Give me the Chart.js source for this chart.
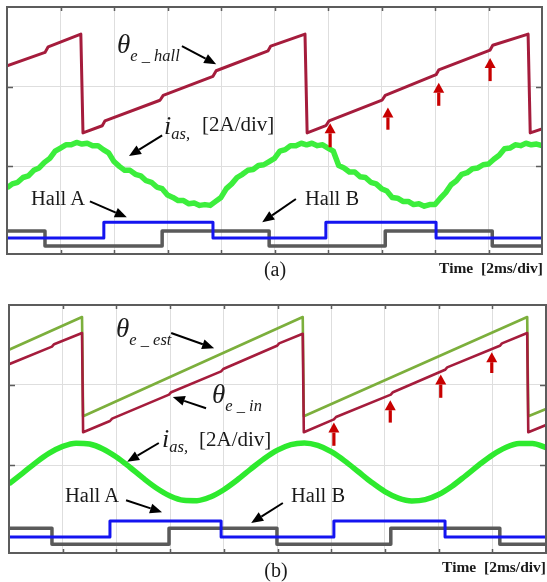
<!DOCTYPE html>
<html><head><meta charset="utf-8">
<script src="https://cdn.jsdelivr.net/npm/chart.js@4.4.1/dist/chart.umd.min.js"></script>
<style>
html,body{margin:0;padding:0;background:#fff;}
#wrap{position:relative;width:547px;height:582px;overflow:hidden;background:#fff;}
canvas{position:absolute;left:0;}
#ca{top:0;}
#cb{top:290px;}
svg{position:absolute;left:0;top:0;}
</style></head><body>
<div id="wrap">
<canvas id="ca" width="547" height="290" style="width:547px;height:290px"></canvas>
<canvas id="cb" width="547" height="292" style="width:547px;height:292px"></canvas>
<svg width="547" height="582" font-family="'Liberation Serif','Times New Roman',serif" fill="#1a1a1a">
  <!-- panel (a) -->
  <text x="117" y="53" font-size="27" font-style="italic">θ<tspan font-size="16.5" dy="8">e _ hall</tspan></text>
  <text x="164" y="134" font-size="26" font-style="italic">i<tspan font-size="16.5" dy="5">as,</tspan></text>
  <text x="202" y="131" font-size="21">[2A/div]</text>
  <text x="31" y="205" font-size="20.5">Hall A</text>
  <text x="305" y="205" font-size="20.5">Hall B</text>
  <text x="275" y="276" font-size="20" text-anchor="middle">(a)</text>
  <text x="543" y="273" font-size="15.5" font-weight="bold" text-anchor="end" xml:space="preserve">Time  [2ms/div]</text>
  <!-- panel (b) -->
  <text x="116" y="337" font-size="27" font-style="italic">θ<tspan font-size="16.5" dy="8">e _ est</tspan></text>
  <text x="212" y="403" font-size="27" font-style="italic">θ<tspan font-size="16.5" dy="8">e _ in</tspan></text>
  <text x="162" y="447" font-size="26" font-style="italic">i<tspan font-size="16.5" dy="5">as,</tspan></text>
  <text x="199" y="446" font-size="21">[2A/div]</text>
  <text x="65" y="502" font-size="20.5">Hall A</text>
  <text x="291" y="502" font-size="20.5">Hall B</text>
  <text x="276" y="577" font-size="20" text-anchor="middle">(b)</text>
  <text x="546" y="572" font-size="15.5" font-weight="bold" text-anchor="end" xml:space="preserve">Time  [2ms/div]</text>
</svg>
</div>
<script>
// ===== Panel (a) data (x in time divisions of 2 ms, y in vertical divisions) =====
const thetaHallT = [0, 0.71, 0.77, 1.38, 1.42, 1.78, 1.83, 2.86, 2.92, 3.85, 3.91, 4.88, 4.93, 5.57, 5.61, 5.96, 6.02, 7.01, 7.07, 8.02, 8.07, 9.03, 9.08, 9.74, 9.78, 10];
const thetaHallV = [2.26, 2.43, 2.50, 2.66, 1.42, 1.51, 1.57, 1.83, 1.89, 2.13, 2.20, 2.45, 2.51, 2.66, 1.42, 1.51, 1.57, 1.83, 1.89, 2.15, 2.21, 2.46, 2.52, 2.66, 1.42, 1.47];

const iasAT = [0,0.1,0.2,0.3,0.4,0.5,0.6,0.7,0.8,0.9,1,1.1,1.2,1.3,1.4,1.5,1.6,1.7,1.8,1.9,2,2.1,2.2,2.3,2.4,2.5,2.6,2.7,2.8,2.9,3,3.1,3.2,3.3,3.4,3.5,3.6,3.7,3.8,3.9,4,4.1,4.2,4.3,4.4,4.5,4.6,4.7,4.8,4.9,5,5.1,5.2,5.3,5.4,5.5,5.6,5.7,5.8,5.9,6,6.1,6.2,6.3,6.4,6.5,6.6,6.7,6.8,6.9,7,7.1,7.2,7.3,7.4,7.5,7.6,7.7,7.8,7.9,8,8.1,8.2,8.3,8.4,8.5,8.6,8.7,8.8,8.9,9,9.1,9.2,9.3,9.4,9.5,9.6,9.7,9.8,9.9,10];
const iasAV = [0.73,0.78,0.80,0.86,0.88,0.95,0.98,1.05,1.10,1.19,1.23,1.27,1.27,1.30,1.28,1.29,1.26,1.26,1.21,1.17,1.06,1.00,0.95,0.95,0.90,0.88,0.82,0.80,0.74,0.72,0.64,0.61,0.57,0.57,0.53,0.54,0.51,0.52,0.51,0.56,0.61,0.72,0.78,0.86,0.90,0.95,0.96,1.01,1.02,1.06,1.10,1.19,1.21,1.26,1.26,1.29,1.27,1.29,1.26,1.27,1.23,1.19,1.01,0.98,0.93,0.93,0.87,0.86,0.80,0.78,0.72,0.69,0.61,0.60,0.56,0.56,0.52,0.53,0.50,0.52,0.52,0.60,0.67,0.77,0.82,0.90,0.92,0.97,0.98,1.02,1.03,1.09,1.14,1.22,1.23,1.27,1.26,1.29,1.27,1.28,1.26];

const hallAT_a = [0, 1.81, 3.85, 5.96, 8.02, 10];
const hallAV_a = [0.10, 0.30, 0.10, 0.30, 0.10, 0.10];
const hallBT_a = [0, 0.71, 2.90, 4.90, 7.07, 9.07, 10];
const hallBV_a = [0.19, 0.00, 0.19, 0.00, 0.19, 0.00, 0.00];

// ===== Panel (b) data =====
const thetaEstT = [0, 1.36, 1.38, 5.47, 5.49, 9.65, 9.67, 10];
const thetaEstV = [2.44, 2.85, 1.61, 2.85, 1.61, 2.85, 1.61, 1.70];

const thetaInT = [0, 0.80, 0.84, 1.36, 1.38, 1.88, 1.92, 2.98, 3.02, 3.95, 3.99, 4.99, 5.03, 5.47, 5.49, 6.05, 6.09, 7.11, 7.15, 8.12, 8.16, 9.14, 9.18, 9.65, 9.67, 10];
const thetaInV = [2.26, 2.48, 2.51, 2.65, 1.41, 1.55, 1.58, 1.88, 1.91, 2.17, 2.20, 2.49, 2.52, 2.64, 1.41, 1.57, 1.60, 1.88, 1.91, 2.19, 2.22, 2.49, 2.52, 2.65, 1.41, 1.50];

const iasBT = [0,0.25,0.5,0.75,1,1.25,1.5,1.75,2,2.25,2.5,2.75,3,3.25,3.5,3.75,4,4.25,4.5,4.75,5,5.25,5.5,5.75,6,6.25,6.5,6.75,7,7.25,7.5,7.75,8,8.25,8.5,8.75,9,9.25,9.5,9.75,10];
const iasBV = [0.763,0.895,1.030,1.148,1.233,1.273,1.262,1.201,1.100,0.972,0.835,0.710,0.613,0.559,0.554,0.600,0.691,0.812,0.948,1.079,1.186,1.255,1.275,1.244,1.166,1.052,0.919,0.785,0.668,0.587,0.551,0.567,0.631,0.735,0.865,1.000,1.124,1.218,1.268,1.269,1.218];

const hallAT_b = [0, 1.88, 3.95, 6.05, 8.12, 10];
const hallAV_b = [0.10, 0.30, 0.10, 0.30, 0.10, 0.10];
const hallBT_b = [0, 0.80, 2.98, 4.99, 7.11, 9.14, 10];
const hallBV_b = [0.21, 0.01, 0.21, 0.01, 0.21, 0.01, 0.01];

// ===== Annotations (in data units) =====
const callA = { x1:[3.27,2.90,1.55,5.40], y1:[2.51,1.39,0.56,0.59], x2:[3.91,2.28,2.24,4.77], y2:[2.28,1.13,0.36,0.30] };
const markA = { x:[6.04,7.12,8.07,9.03], tip:[1.54,1.74,2.05,2.36], tail:[1.24,1.46,1.76,2.07] };
const callB = { x1:[3.02,3.67,2.79,2.18,5.10], y1:[2.65,1.71,1.275,0.56,0.525], x2:[3.82,3.05,2.20,2.85,4.51], y2:[2.46,1.85,1.04,0.41,0.275] };
const markB = { x:[6.05,7.10,8.04,8.99], tip:[1.53,1.81,2.13,2.41], tail:[1.24,1.53,1.84,2.15] };

const zip = (t, v) => t.map((x, i) => ({ x: x, y: v[i] }));

function arrow(ctx, x1, y1, x2, y2, color, lw, hl, hw) {
  const ang = Math.atan2(y2 - y1, x2 - x1);
  const bx = x2 - hl * Math.cos(ang), by = y2 - hl * Math.sin(ang);
  ctx.strokeStyle = color; ctx.fillStyle = color; ctx.lineWidth = lw;
  ctx.beginPath(); ctx.moveTo(x1, y1); ctx.lineTo(bx, by); ctx.stroke();
  ctx.beginPath();
  ctx.moveTo(x2, y2);
  ctx.lineTo(bx + hw * Math.sin(ang), by - hw * Math.cos(ang));
  ctx.lineTo(bx - hw * Math.sin(ang), by + hw * Math.cos(ang));
  ctx.closePath(); ctx.fill();
}

function decor(call, mark) {
  return {
    id: 'scopeDecor',
    afterDatasetsDraw(chart) {
      const { ctx, chartArea: a, scales: { x, y } } = chart;
      ctx.save();
      mark.x.forEach((v, i) => {
        arrow(ctx, x.getPixelForValue(v), y.getPixelForValue(mark.tail[i]), x.getPixelForValue(v), y.getPixelForValue(mark.tip[i]), '#c80000', 3.2, 10, 5.5);
      });
      call.x1.forEach((v, i) => {
        arrow(ctx, x.getPixelForValue(v), y.getPixelForValue(call.y1[i]), x.getPixelForValue(call.x2[i]), y.getPixelForValue(call.y2[i]), '#000', 2, 12, 5);
      });
      ctx.strokeStyle = '#5c5c5c'; ctx.lineWidth = 2;
      ctx.strokeRect(a.left, a.top, a.right - a.left, a.bottom - a.top);
      ctx.lineWidth = 1.5;
      ctx.beginPath();
      x.ticks.forEach(t => {
        if (t.value <= x.min || t.value >= x.max) return;
        const px = Math.round(x.getPixelForValue(t.value)) + 0.5;
        ctx.moveTo(px, a.top); ctx.lineTo(px, a.top + 4);
        ctx.moveTo(px, a.bottom); ctx.lineTo(px, a.bottom - 4);
      });
      y.ticks.forEach(t => {
        if (t.value <= y.min || t.value >= y.max) return;
        const py = Math.round(y.getPixelForValue(t.value)) + 0.5;
        ctx.moveTo(a.left, py); ctx.lineTo(a.left + 6, py);
        ctx.moveTo(a.right, py); ctx.lineTo(a.right - 6, py);
      });
      ctx.stroke();
      ctx.restore();
    }
  };
}

function scopeOptions(pad) {
  return {
    responsive: false, animation: false, devicePixelRatio: 1,
    layout: { padding: pad },
    plugins: { legend: { display: false }, tooltip: { enabled: false } },
    elements: { point: { radius: 0 }, line: { borderCapStyle: 'butt', borderJoinStyle: 'round' } },
    scales: {
      x: { type: 'linear', min: 0, max: 10, ticks: { display: false, stepSize: 1 },
           grid: { color: '#dedede', lineWidth: 1, drawTicks: false }, border: { display: false } },
      y: { type: 'linear', min: -0.1, max: 3, ticks: { display: false, stepSize: 1 },
           grid: { color: '#dedede', lineWidth: 1, drawTicks: false }, border: { display: false } }
    }
  };
}

new Chart(document.getElementById('ca'), {
  type: 'line',
  data: { datasets: [
    { data: zip(thetaHallT, thetaHallV), borderColor: '#a51c3c', borderWidth: 3, tension: 0 },
    { data: zip(hallAT_a, hallAV_a), borderColor: '#1414f0', borderWidth: 3, stepped: true },
    { data: zip(hallBT_a, hallBV_a), borderColor: '#5a5a5a', borderWidth: 3.5, stepped: true },
    { data: zip(iasAT, iasAV), borderColor: '#3cee3c', borderWidth: 5.5, tension: 0 }
  ] },
  options: scopeOptions({ left: 7, top: 7, right: 5, bottom: 36 }),
  plugins: [decor(callA, markA)]
});

new Chart(document.getElementById('cb'), {
  type: 'line',
  data: { datasets: [
    { data: zip(thetaInT, thetaInV), borderColor: '#a51c3c', borderWidth: 2.6, tension: 0 },
    { data: zip(thetaEstT, thetaEstV), borderColor: '#7caf3c', borderWidth: 2.6, tension: 0 },
    { data: zip(hallAT_b, hallAV_b), borderColor: '#1414f0', borderWidth: 3, stepped: true },
    { data: zip(hallBT_b, hallBV_b), borderColor: '#5a5a5a', borderWidth: 3.5, stepped: true },
    { data: zip(iasBT, iasBV), borderColor: '#2eea2e', borderWidth: 5.5, tension: 0.4, cubicInterpolationMode: 'monotone' }
  ] },
  options: scopeOptions({ left: 9, top: 15, right: 1, bottom: 29 }),
  plugins: [decor(callB, markB)]
});
</script>
</body></html>
